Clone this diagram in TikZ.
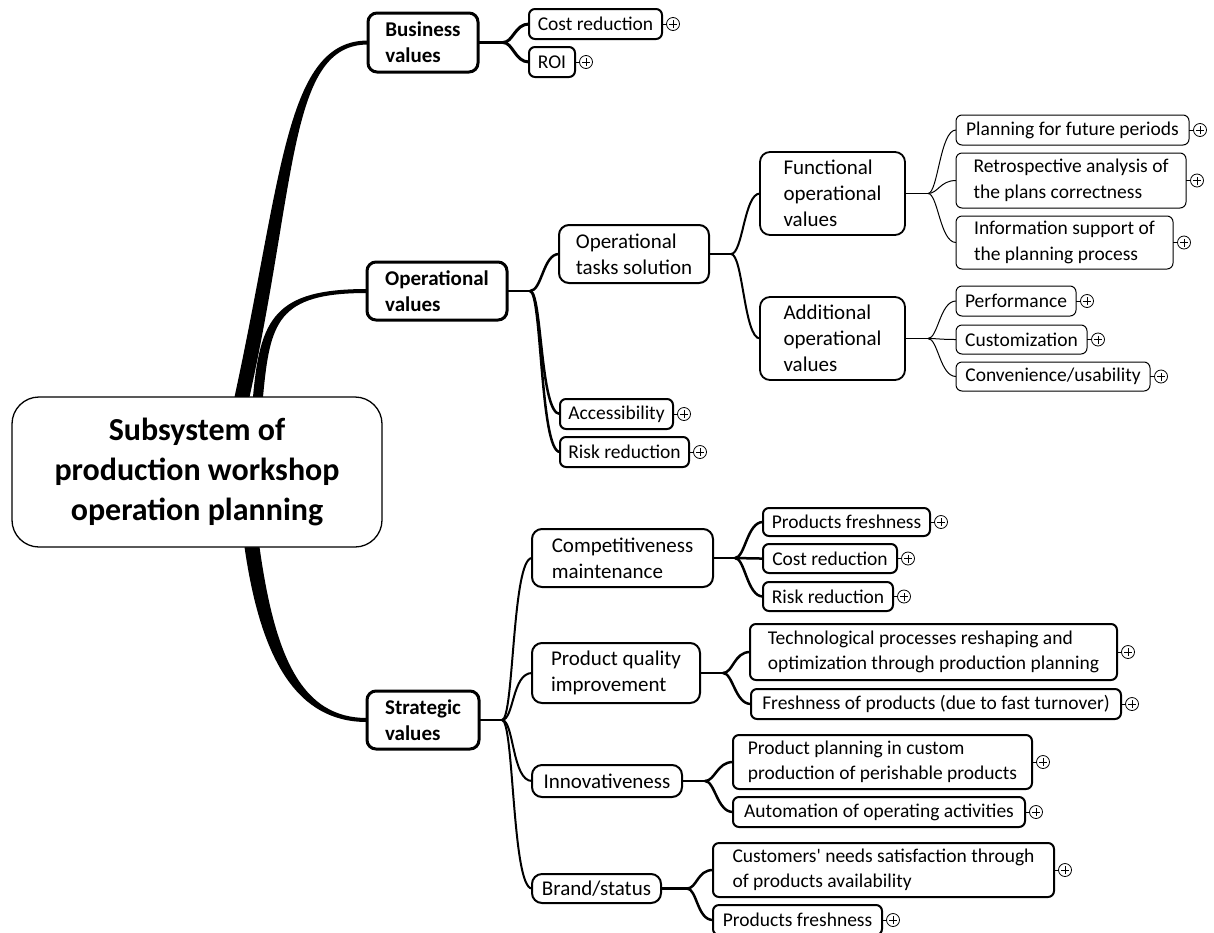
\documentclass[tikz,border=0pt]{standalone}
\usepackage{fontspec}
\setmainfont{Carlito}[Ligatures=TeXOff]
\usetikzlibrary{calc,backgrounds}
\newcommand{\plusat}[2]{\node[plusc] (#1) at ($(#2.east)+(11,0)$) {};\draw[line width=0.8pt] (#2.east) -- (#1.west);}
\begin{document}
\begin{tikzpicture}[x=1pt,y=-1pt,
  every node/.style={inner sep=0pt, outer sep=0pt},
  box/.style={draw, fill=white, align=left, anchor=west},
  lvl0/.style={box, line width=1.3pt, rounded corners=27pt, align=center, font=\fontsize{32}{40}\selectfont\bfseries},
  lvl1/.style={box, line width=3pt, rounded corners=9pt, font=\fontsize{21}{26}\selectfont\bfseries},
  lvl2/.style={box, line width=2pt, rounded corners=10pt, font=\fontsize{21}{26}\selectfont},
  leaf/.style={box, line width=2pt, rounded corners=6pt, font=\fontsize{19.5}{25.5}\selectfont},
  thinleaf/.style={leaf, line width=1pt},
  plusc/.style={circle, draw, fill=white, line width=0.8pt, minimum size=13pt,
    path picture={\draw[line width=0.8pt] ([xshift=-4pt]path picture bounding box.center) -- ([xshift=4pt]path picture bounding box.center) ([yshift=-4pt]path picture bounding box.center) -- ([yshift=4pt]path picture bounding box.center);}},
  cn/.style={line width=#1, line join=round, line cap=butt}
]
\useasboundingbox (0,0) rectangle (1214,932);

% root
\node[lvl0, minimum width=370pt, minimum height=150pt] (root) at (12,472) {Subsystem of\\production workshop\\operation planning};

% level 1
\node[lvl1, minimum width=110pt, minimum height=59pt] (bv) at (368,42.5) {Business\\values};
\node[lvl1, minimum width=140pt, minimum height=58pt] (ov) at (367,291) {Operational\\values};
\node[lvl1, minimum width=112pt, minimum height=58pt] (sv) at (367,720) {Strategic\\values};

% business
\node[leaf, minimum width=133pt, minimum height=30pt] (cr1) at (529,24) {Cost reduction};
\node[leaf, minimum width=46pt, minimum height=30pt] (roi) at (529,62) {ROI};

% operational
\node[lvl2, minimum width=150pt, minimum height=58pt] (ots) at (559,254) {Operational\\tasks solution};
\node[leaf, minimum width=113pt, minimum height=30pt] (acc) at (560,414) {Accessibility};
\node[leaf, minimum width=129pt, minimum height=30pt] (rr1) at (560,452) {Risk reduction};
\node[lvl2, line width=1.8pt, minimum width=145pt, minimum height=83pt] (fov) at (760,193.5) {Functional\\operational\\values};
\node[lvl2, line width=1.8pt, minimum width=145pt, minimum height=83pt] (aov) at (760,338.5) {Additional\\operational\\values};
\node[thinleaf, minimum width=233pt, minimum height=30pt] (pfp) at (956,130) {Planning for future periods};
\node[thinleaf, minimum width=230pt, minimum height=55pt] (ra) at (956,180.5) {Retrospective analysis of\\the plans correctness};
\node[thinleaf, minimum width=217pt, minimum height=53pt] (isp) at (956,242.5) {Information support of\\the planning process};
\node[thinleaf, minimum width=120pt, minimum height=30pt] (perf) at (956,301) {Performance};
\node[thinleaf, minimum width=131pt, minimum height=29pt] (cust) at (956,339.5) {Customization};
\node[thinleaf, minimum width=194pt, minimum height=29pt] (conv) at (956,376.5) {Convenience/usability};

% strategic
\node[lvl2, minimum width=181pt, minimum height=58pt] (cm) at (532,558) {Competitiveness\\maintenance};
\node[lvl2, minimum width=168pt, minimum height=60pt] (pqi) at (532,673) {Product quality\\improvement};
\node[lvl2, minimum width=150pt, minimum height=32pt] (inn) at (532,781) {Innovativeness};
\node[lvl2, minimum width=129pt, minimum height=29pt] (bs) at (532,888.5) {Brand/status};
\node[leaf, minimum width=167pt, minimum height=28pt] (pf1) at (763,522) {Products freshness};
\node[leaf, minimum width=134pt, minimum height=29pt] (cr2) at (763,558.5) {Cost reduction};
\node[leaf, minimum width=130pt, minimum height=29pt] (rr2) at (763,596.5) {Risk reduction};
\node[leaf, minimum width=367pt, minimum height=56pt] (tp) at (750,652) {Technological processes reshaping and\\optimization through production planning};
\node[leaf, minimum width=370pt, minimum height=30pt] (fp) at (751,704) {Freshness of products (due to fast turnover)};
\node[leaf, minimum width=299pt, minimum height=54pt] (ppc) at (733,762) {Product planning in custom\\production of perishable products};
\node[leaf, minimum width=292pt, minimum height=30pt] (aoa) at (733,812) {Automation of operating activities};
\node[leaf, minimum width=341pt, minimum height=54pt] (cns) at (713,870) {Customers' needs satisfaction through\\of products availability};
\node[leaf, minimum width=169pt, minimum height=30pt] (pf2) at (713,920) {Products freshness};

% plus markers
\plusat{p1}{cr1}
\plusat{p2}{roi}
\plusat{p3}{acc}
\plusat{p4}{rr1}
\plusat{p5}{pfp}
\plusat{p6}{ra}
\plusat{p7}{isp}
\plusat{p8}{perf}
\plusat{p9}{cust}
\plusat{p10}{conv}
\plusat{p11}{pf1}
\plusat{p12}{cr2}
\plusat{p13}{rr2}
\plusat{p14}{tp}
\plusat{p15}{fp}
\plusat{p16}{ppc}
\plusat{p17}{aoa}
\plusat{p18}{cns}
\plusat{p19}{pf2}

% hubs
\coordinate (hb) at ($(bv.east)+(25,0)$);
\coordinate (ho) at ($(ov.east)+(23,0)$);
\coordinate (hots) at ($(ots.east)+(22,0)$);
\coordinate (hfov) at ($(fov.east)+(23,0)$);
\coordinate (haov) at ($(aov.east)+(23,0)$);
\coordinate (hs) at ($(sv.east)+(23,0)$);
\coordinate (hcm) at ($(cm.east)+(22,0)$);
\coordinate (hpqi) at ($(pqi.east)+(23,0)$);
\coordinate (hinn) at ($(inn.east)+(23,0)$);
\coordinate (hbs) at ($(bs.east)+(26,0)$);

\begin{pgfonlayer}{background}
% tapered main branches
\fill (233,440) -- (234.5,397) .. controls (282.7,175) and (285,40.5) .. ($(bv.west)+(0,-2)$) -- ($(bv.west)+(0,2)$) .. controls (289,44.5) and (297.3,179) .. (249.5,397) -- (250,440) -- cycle;
\fill (252,440) -- (253,397) .. controls (260,318) and (275,289) .. ($(ov.west)+(0,-2)$) -- ($(ov.west)+(0,2)$) .. controls (277,293) and (270,322) .. (263,397) -- (262,440) -- cycle;
\fill (244,500) -- (244.5,547) .. controls (261,662) and (298,722) .. ($(sv.west)+(0,2)$) -- ($(sv.west)+(0,-2)$) .. controls (302,718) and (275,658) .. (259.5,547) -- (259,500) -- cycle;

% business
\draw[cn=3pt] (bv.east) -- (hb);
\draw[cn=3pt] (hb) .. controls +(10,0) and +(-14,0) .. (cr1.west);
\draw[cn=3pt] (hb) .. controls +(10,0) and +(-14,0) .. (roi.west);

% operational
\draw[cn=2.5pt] (ov.east) -- (ho);
\draw[cn=2.5pt] (ho) .. controls +(12,0) and +(-16,0) .. (ots.west);
\draw[cn=2.5pt] (ho) .. controls +(12,0) and +(-20,0) .. (acc.west);
\draw[cn=2.5pt] (ho) .. controls +(12,0) and +(-20,0) .. (rr1.west);
\draw[cn=2pt] (ots.east) -- (hots);
\draw[cn=2pt] (hots) .. controls +(12,0) and +(-16,0) .. (fov.west);
\draw[cn=2pt] (hots) .. controls +(12,0) and +(-16,0) .. (aov.west);
\draw[cn=1pt] (fov.east) -- (hfov);
\draw[cn=1pt] (hfov) .. controls +(10,0) and +(-16,0) .. (pfp.west);
\draw[cn=1pt] (hfov) .. controls +(10,0) and +(-16,0) .. (ra.west);
\draw[cn=1pt] (hfov) .. controls +(10,0) and +(-16,0) .. (isp.west);
\draw[cn=1pt] (aov.east) -- (haov);
\draw[cn=1pt] (haov) .. controls +(10,0) and +(-16,0) .. (perf.west);
\draw[cn=1pt] (haov) .. controls +(10,0) and +(-16,0) .. (cust.west);
\draw[cn=1pt] (haov) .. controls +(10,0) and +(-16,0) .. (conv.west);

% strategic
\draw[cn=2pt] (sv.east) -- (hs);
\draw[cn=2pt] (hs) .. controls +(12,0) and +(-20,0) .. (cm.west);
\draw[cn=2pt] (hs) .. controls +(12,0) and +(-20,0) .. (pqi.west);
\draw[cn=2pt] (hs) .. controls +(12,0) and +(-20,0) .. (inn.west);
\draw[cn=2pt] (hs) .. controls +(12,0) and +(-20,0) .. (bs.west);
\draw[cn=2.5pt] (cm.east) -- (hcm);
\draw[cn=2.5pt] (hcm) .. controls +(10,0) and +(-16,0) .. (pf1.west);
\draw[cn=2.5pt] (hcm) .. controls +(10,0) and +(-16,0) .. (cr2.west);
\draw[cn=2.5pt] (hcm) .. controls +(10,0) and +(-16,0) .. (rr2.west);
\draw[cn=2.5pt] (pqi.east) -- (hpqi);
\draw[cn=2.5pt] (hpqi) .. controls +(10,0) and +(-16,0) .. (tp.west);
\draw[cn=2.5pt] (hpqi) .. controls +(10,0) and +(-16,0) .. (fp.west);
\draw[cn=2.5pt] (inn.east) -- (hinn);
\draw[cn=2.5pt] (hinn) .. controls +(10,0) and +(-16,0) .. (ppc.west);
\draw[cn=2.5pt] (hinn) .. controls +(10,0) and +(-16,0) .. (aoa.west);
\draw[cn=2.5pt] (bs.east) -- (hbs);
\draw[cn=2.5pt] (hbs) .. controls +(10,0) and +(-16,0) .. (cns.west);
\draw[cn=2.5pt] (hbs) .. controls +(10,0) and +(-16,0) .. (pf2.west);
\end{pgfonlayer}
\end{tikzpicture}
\end{document}
